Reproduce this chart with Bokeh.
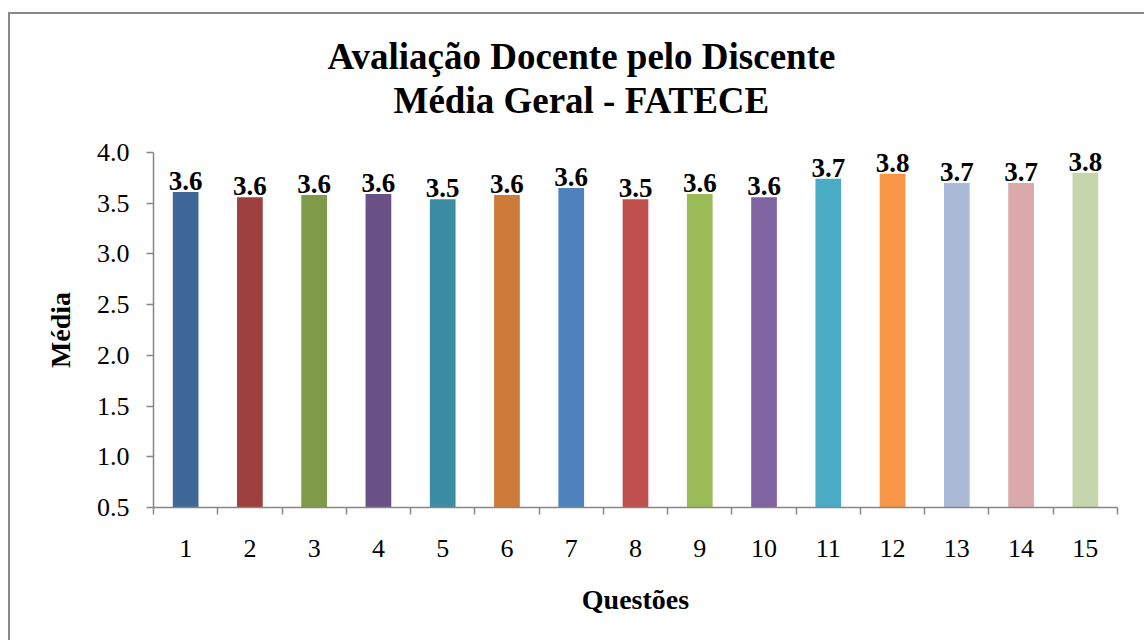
from bokeh.plotting import figure
from bokeh.models import (ColumnDataSource, Range1d, FixedTicker, LabelSet, Title,
                          PrintfTickFormatter)
from bokeh.embed import file_html
from bokeh.resources import INLINE

# ---- data ----
questions = list(range(1, 16))
medias = [3.61, 3.56, 3.58, 3.59, 3.54, 3.58, 3.65, 3.54, 3.59, 3.56,
          3.74, 3.79, 3.70, 3.70, 3.80]
colors = ["#3F6899", "#9E413E", "#7F9A48", "#695185", "#3C8DA3", "#CC7B38",
          "#4F81BD", "#C0504D", "#9BBB59", "#8064A2", "#4BACC6", "#F79646",
          "#AABAD7", "#D9AAA9", "#C6D6AC"]
y_ticks = [0.5, 1.0, 1.5, 2.0, 2.5, 3.0, 3.5, 4.0]
title_line1 = "Avaliação Docente pelo Discente"
title_line2 = "Média Geral - FATECE"

labels = [f"{v:.1f}" for v in medias]
src = ColumnDataSource(dict(x=questions, top=medias, color=colors, label=labels))

FONT = "Liberation Serif"
GRAY = "#868686"

p = figure(width=1136, height=628, output_backend="svg", toolbar_location=None,
           x_range=Range1d(0.5, 15.5), y_range=Range1d(0.5, 4.0),
           min_border_left=143, min_border_right=29, min_border_top=138,
           min_border_bottom=135)
p.title = None
p.styles = {"border-left": "2px solid #898989", "border-top": "2px solid #898989",
            "margin-left": "8px", "margin-top": "12px"}
p.outline_line_color = None
p.xgrid.visible = False
p.ygrid.visible = False
p.background_fill_color = "white"
p.border_fill_color = "white"

p.vbar(x="x", width=0.4, top="top", bottom=0.5, fill_color="color",
       line_color=None, source=src)

p.add_layout(LabelSet(x="x", y="top", text="label", source=src, y_offset=2,
                      text_align="center", text_baseline="bottom",
                      text_font=FONT, text_font_style="bold",
                      text_font_size="27px", text_color="black"))

# titles: blank spacer nearest the plot, then line 2, then line 1
spacer = Title(text=" ", text_font_size="10px", text_color="white", standoff=19)
t2 = Title(text=title_line2, align="left", text_font=FONT, text_font_style="bold",
           text_font_size="37px", text_color="black", offset=240, standoff=0)
t1 = Title(text=title_line1, align="left", text_font=FONT, text_font_style="bold",
           text_font_size="37px", text_color="black", offset=174, standoff=2)
p.add_layout(spacer, "above")
p.add_layout(t2, "above")
p.add_layout(t1, "above")

# y axis
ya = p.yaxis[0]
ya.ticker = FixedTicker(ticks=y_ticks)
ya.formatter = PrintfTickFormatter(format="%.1f")
ya.axis_line_color = GRAY
ya.axis_line_width = 1.5
ya.major_tick_line_color = GRAY
ya.major_tick_line_width = 1.5
ya.major_tick_out = 7
ya.major_tick_in = 0
ya.minor_tick_line_color = None
ya.major_label_text_font = FONT
ya.major_label_text_font_size = "26px"
ya.major_label_text_color = "black"
ya.major_label_standoff = 17
ya.axis_label = "Média"
ya.axis_label_text_font = FONT
ya.axis_label_text_font_style = "bold"
ya.axis_label_text_font_size = "28px"
ya.axis_label_text_color = "black"
ya.axis_label_standoff = 18

# x axis
xa = p.xaxis[0]
xa.ticker = FixedTicker(ticks=questions, minor_ticks=[q - 0.5 for q in questions] + [15.5])
xa.axis_line_color = GRAY
xa.axis_line_width = 1.5
xa.major_tick_line_color = None
xa.major_tick_out = 0
xa.major_tick_in = 0
xa.minor_tick_line_color = GRAY
xa.minor_tick_line_width = 1.5
xa.minor_tick_out = 7
xa.minor_tick_in = 0
xa.major_label_text_font = FONT
xa.major_label_text_font_size = "26px"
xa.major_label_text_color = "black"
xa.major_label_standoff = 25
xa.axis_label = "Questões"
xa.axis_label_text_font = FONT
xa.axis_label_text_font_style = "bold"
xa.axis_label_text_font_size = "28px"
xa.axis_label_text_color = "black"
xa.axis_label_standoff = 24

open("out.html", "w").write(file_html(p, INLINE))
